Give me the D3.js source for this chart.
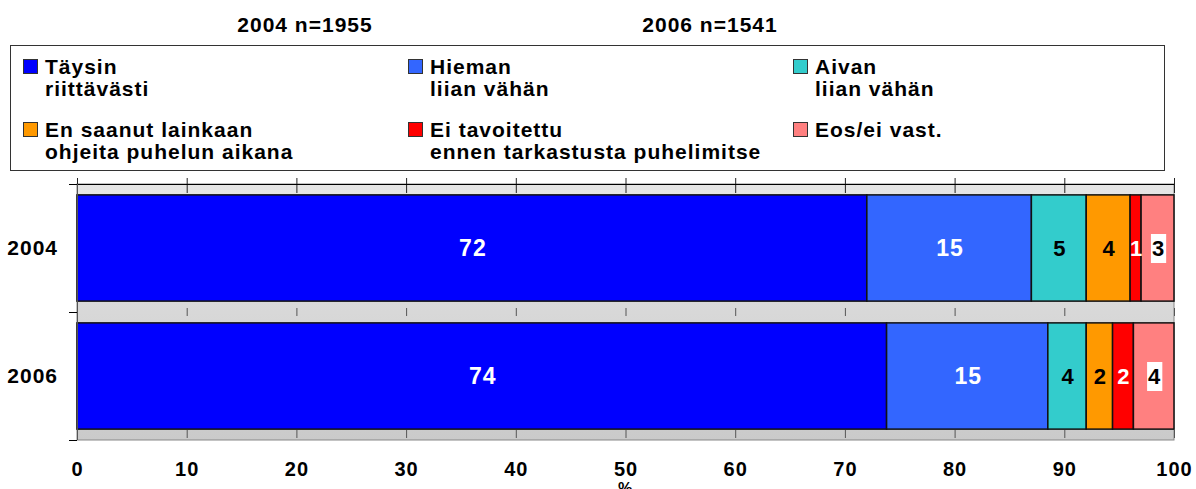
<!DOCTYPE html>
<html>
<head>
<meta charset="utf-8">
<script src="https://cdn.jsdelivr.net/npm/d3@7"></script>
<style>
  body { margin: 0; background: #fff; }
  svg text { font-family: "Liberation Sans", Arial, sans-serif; font-weight: bold; letter-spacing: 1px; }
</style>
</head>
<body>
<div id="chart"></div>
<script>
const categories = ['2004', '2006'];
const titles = ['2004 n=1955', '2006 n=1541'];
const seriesKeys = ['tays', 'hieman', 'aivan', 'eiSaanut', 'eiTav', 'eos'];
const seriesLabels = [
  ['Täysin', 'riittävästi'],
  ['Hieman', 'liian vähän'],
  ['Aivan', 'liian vähän'],
  ['En saanut lainkaan', 'ohjeita puhelun aikana'],
  ['Ei tavoitettu', 'ennen tarkastusta puhelimitse'],
  ['Eos/ei vast.']
];
const tays = [72, 73.8];
const hieman = [15, 14.7];
const aivan = [5, 3.5];
const eiSaanut = [4, 2.4];
const eiTav = [1, 1.9];
const eos = [3, 3.7];
const xTicks = [0, 10, 20, 30, 40, 50, 60, 70, 80, 90, 100];

const colors = ['#0000ff', '#3366ff', '#33cccc', '#ff9900', '#ff0000', '#ff8080'];
const labelColors = ['#fff', '#fff', '#000', '#000', '#fff', '#000'];

const W = 1196, H = 489;
const svg = d3.select('#chart').append('svg')
  .attr('width', W).attr('height', H);

// rows for stacking
const rows = categories.map((c, i) => ({
  cat: c, tays: tays[i], hieman: hieman[i], aivan: aivan[i],
  eiSaanut: eiSaanut[i], eiTav: eiTav[i], eos: eos[i]
}));
const stacked = d3.stack().keys(seriesKeys)(rows);

const x = d3.scaleLinear().domain([0, 100]).range([77, 1174]);
const y = d3.scaleBand().domain(categories).range([184, 440])
  .paddingInner(0.17).paddingOuter(0.085);

// titles
svg.selectAll('.title').data(titles).enter().append('text')
  .attr('x', (d, i) => [305, 710][i])
  .attr('y', 32)
  .attr('text-anchor', 'middle')
  .style('font-size', '21px')
  .text(d => d);

// legend
const legend = svg.append('g');
legend.append('rect')
  .attr('x', 10.5).attr('y', 45.5).attr('width', 1154).attr('height', 125)
  .attr('fill', '#fff').attr('stroke', '#333');
const legX = [23, 408, 793];
const legY = [59, 122];
seriesLabels.forEach((lines, i) => {
  const lx = legX[i % 3], ly = legY[Math.floor(i / 3)];
  legend.append('rect')
    .attr('x', lx + 0.5).attr('y', ly + 0.5).attr('width', 14).attr('height', 14)
    .attr('fill', colors[i]).attr('stroke', '#333');
  const t = legend.append('text').attr('x', lx + 22).attr('y', ly + 15)
    .style('font-size', '21px');
  lines.forEach((l, j) => {
    t.append('tspan').attr('x', lx + 22).attr('dy', j ? 22 : 0).text(l);
  });
});

// plot background
const grad = svg.append('defs').append('linearGradient')
  .attr('id', 'bg').attr('x1', 0).attr('y1', 0).attr('x2', 0).attr('y2', 1);
grad.append('stop').attr('offset', 0).attr('stop-color', '#e6e6e6');
grad.append('stop').attr('offset', 1).attr('stop-color', '#cacaca');

svg.append('rect')
  .attr('x', x(0)).attr('y', y.range()[0])
  .attr('width', x(100) - x(0)).attr('height', y.range()[1] - y.range()[0])
  .attr('fill', 'url(#bg)').attr('stroke', '#888');

// short tick marks seen in the gaps between bars
const tickSpans = [[178, 193], [308, 316], [430, 438]];
tickSpans.forEach(([a, b]) => {
  svg.append('g').selectAll('line').data(xTicks).enter().append('line')
    .attr('x1', d => x(d) + 0.5).attr('x2', d => x(d) + 0.5)
    .attr('y1', a).attr('y2', b)
    .attr('stroke', a < 184 ? '#222' : '#555');
});

// top axis line
svg.append('line')
  .attr('x1', x(0) - 7).attr('x2', x(100))
  .attr('y1', 184.5).attr('y2', 184.5)
  .attr('stroke', '#000');

// bars
const layer = svg.append('g').selectAll('g').data(stacked).enter().append('g')
  .attr('fill', (d, i) => colors[i]);
layer.selectAll('rect').data(d => d).enter().append('rect')
  .attr('x', d => x(d[0]))
  .attr('y', d => y(d.data.cat))
  .attr('width', d => x(d[1]) - x(d[0]))
  .attr('height', y.bandwidth())
  .attr('stroke', '#111').attr('stroke-width', 1.5);

// value labels
stacked.forEach((s, i) => {
  s.forEach(d => {
    const cx = (x(d[0]) + x(d[1])) / 2 + 1;
    const cy = y(d.data.cat) + y.bandwidth() / 2;
    const txt = String(Math.round(d[1] - d[0]));
    const fs = i < 2 ? 23 : 22;
    if (i === 5) {
      const w = txt.length * fs * 0.556 + 3;
      svg.append('rect')
        .attr('x', cx - w / 2).attr('y', cy - 14)
        .attr('width', w).attr('height', 29)
        .attr('fill', '#fff');
    }
    svg.append('text')
      .attr('x', cx).attr('y', cy + 8)
      .attr('text-anchor', 'middle')
      .attr('fill', labelColors[i])
      .style('font-size', fs + 'px')
      .text(txt);
  });
});

// left axis: category boundary ticks and labels
const edges = [y.range()[0], y.range()[0] + y.step(), y.range()[1]];
svg.append('g').selectAll('line').data(edges).enter().append('line')
  .attr('x1', 69).attr('x2', 77)
  .attr('y1', d => d + 0.5).attr('y2', d => d + 0.5)
  .attr('stroke', '#000');
svg.append('line')
  .attr('x1', 77.5).attr('x2', 77.5).attr('y1', 184).attr('y2', 440)
  .attr('stroke', '#555');
svg.append('g').selectAll('text').data(categories).enter().append('text')
  .attr('x', 58).attr('y', d => y(d) + y.bandwidth() / 2 + 7)
  .attr('text-anchor', 'end')
  .style('font-size', '21px')
  .text(d => d);

// bottom tick labels
const bottomAxis = svg.append('g').attr('transform', 'translate(0,440)')
  .call(d3.axisBottom(x).tickValues(xTicks).tickSize(0).tickPadding(22));
bottomAxis.select('.domain').remove();
bottomAxis.selectAll('text')
  .attr('fill', '#000')
  .style('font-size', '20px')
  .style('font-family', '"Liberation Sans", Arial, sans-serif');

svg.append('text')
  .attr('x', x(50)).attr('y', 494)
  .attr('text-anchor', 'middle')
  .style('font-size', '16px')
  .text('%');
</script>
</body>
</html>
